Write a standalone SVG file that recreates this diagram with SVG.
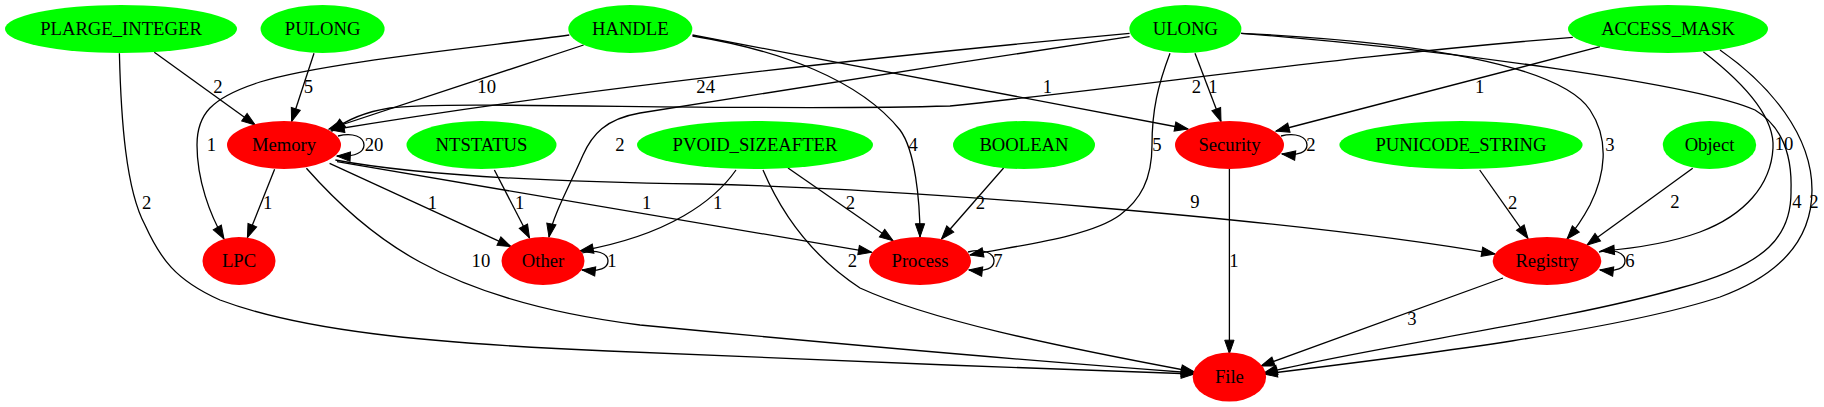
<svg xmlns="http://www.w3.org/2000/svg" width="1824" height="407" viewBox="0 0 1824 407">
<style>
.e{fill:none;stroke:#000;stroke-width:1.3;marker-end:url(#ah)}
.t{font-family:"Liberation Serif","Times New Roman",serif;font-size:18.67px;text-anchor:middle;fill:#000}
.s{fill:#00ff00}
.d{fill:#ff0000}
</style>
<defs>
<marker id="ah" markerUnits="userSpaceOnUse" markerWidth="14" markerHeight="10" refX="13.3" refY="4.67" orient="auto" overflow="visible">
<path d="M0,0 L13.3,4.67 L0,9.34 z" fill="#000" stroke="#000" stroke-width="1"/>
</marker>
</defs>
<rect width="1824" height="407" fill="#fff"/>
<g id="connectors">
<path class="e" d="M154.3,52.3 L255.2,125"/><text class="t" x="218" y="93">2</text>
<path class="e" d="M119.4,53.3 C121,120 126,190 145,225 C160,258 175,280 220,300 C300,330 420,343 608,351 C800,360 1000,367 1194.5,374"/><text class="t" x="146.6" y="209">2</text>
<path class="e" d="M314,53.3 L291.6,121.5"/><text class="t" x="308.3" y="93">5</text>
<path class="e" d="M583.6,45 L329,129"/><text class="t" x="486.7" y="93">10</text>
<path class="e" d="M569.3,35 C480,47 320,63 260,82 C210,98 197,115 197,145 C197,180 210,215 224,239"/><text class="t" x="211.4" y="151">1</text>
<path class="e" d="M692.5,35 L1188,129"/><text class="t" x="1047.4" y="93">1</text>
<path class="e" d="M692.5,36 C780,50 860,80 900,130 C915,150 920,200 920,237"/><text class="t" x="913.2" y="151">4</text>
<path class="e" d="M1129.6,33.3 C950,50 600,85 331,130"/><text class="t" x="705.7" y="93">24</text>
<path class="e" d="M1129.6,36.7 C960,62 720,100 640,113 C605,119 592,135 583,155 C570,185 553,215 549,237"/><text class="t" x="620" y="151">2</text>
<path class="e" d="M1195,53.3 L1221,121.5"/><text class="t" x="1213" y="93">1</text>
<path class="e" d="M1170,53.3 C1158,85 1152,110 1152,145 C1152,180 1140,200 1120,215 C1090,237 1020,245 970,255"/><text class="t" x="1157" y="151">5</text>
<path class="e" d="M1241,33.3 C1420,42 1560,65 1590,110 C1610,140 1605,175 1590,205 C1582,220 1575,230 1567,239"/><text class="t" x="1610" y="151">3</text>
<path class="e" d="M1241,33.3 C1450,50 1700,85 1755,110 C1785,128 1792,160 1791,190 C1792,235 1768,265 1680,288 C1560,322 1380,345 1264,373"/><text class="t" x="1797" y="208">4</text>
<path class="e" d="M1572.8,37.3 C1350,55 1150,85 950,106 C750,112 450,100 390,108 C365,112 346,120 332,131"/><text class="t" x="1196.3" y="93">2</text>
<path class="e" d="M1600,46.7 L1276,131"/><text class="t" x="1479.7" y="93">1</text>
<path class="e" d="M1703.3,51.7 C1740,80 1775,115 1773,148 C1771,185 1745,215 1700,232 C1670,243 1640,248 1601,251"/><text class="t" x="1784" y="150">10</text>
<path class="e" d="M1720,50 C1770,85 1812,135 1812,190 C1812,240 1780,275 1720,297 C1620,330 1420,355 1264,374"/><text class="t" x="1814" y="208">2</text>
<path class="e" d="M338,136 C353,132 364,137 364,145 C364,152 356,157 337,156"/><text class="t" x="374" y="151">20</text>
<path class="e" d="M274.6,169.3 L247.4,237.5"/><text class="t" x="267.6" y="209">1</text>
<path class="e" d="M329.6,163.3 L511,246.7"/><text class="t" x="432.4" y="209">1</text>
<path class="e" d="M337,161.7 L871.7,252.3"/><text class="t" x="646.7" y="209">1</text>
<path class="e" d="M335.4,160 C420,176 550,182 700,184 C900,188 1300,220 1495,254"/><text class="t" x="1195" y="208">9</text>
<path class="e" d="M306.4,168.3 C330,195 370,235 420,262 C480,295 560,315 640,325 C900,350 1100,366 1194.5,373"/><text class="t" x="480.9" y="267">10</text>
<path class="e" d="M494.4,170 L529.5,238"/><text class="t" x="519.7" y="209">1</text>
<path class="e" d="M736,170 C715,200 670,235 580,251"/><text class="t" x="717.7" y="209">1</text>
<path class="e" d="M788,168 L893,240.7"/><text class="t" x="850.4" y="209">2</text>
<path class="e" d="M763,170 C780,210 810,255 860,288 C930,320 1050,345 1194.5,372"/><text class="t" x="852.3" y="267">2</text>
<path class="e" d="M1003.6,168 L941.5,239"/><text class="t" x="980.3" y="209">2</text>
<path class="e" d="M582,253 C596,249 608,253 608,261 C608,268 600,272 582,270"/><text class="t" x="612" y="267">1</text>
<path class="e" d="M968,252 C983,248 994,253 994,261 C994,268 986,272 969,270"/><text class="t" x="998" y="267">7</text>
<path class="e" d="M1281,136 C1296,132 1307,137 1307,145 C1307,152 1299,156 1282,154"/><text class="t" x="1311" y="151">2</text>
<path class="e" d="M1229.4,169 L1229.4,353.5"/><text class="t" x="1234" y="267">1</text>
<path class="e" d="M1479.7,170 L1528,238.5"/><text class="t" x="1512.7" y="209">2</text>
<path class="e" d="M1692.7,168.3 L1587,245"/><text class="t" x="1675" y="208">2</text>
<path class="e" d="M1599,252 C1614,248 1625,253 1625,261 C1625,268 1617,272 1600,270"/><text class="t" x="1630" y="267">6</text>
<path class="e" d="M1503,278 L1261,366"/><text class="t" x="1411.8" y="325">3</text>
</g>
<g id="node-PLARGE_INTEGER"><ellipse class="s" cx="121" cy="29" rx="116" ry="24"/><text class="t" x="121" y="35">PLARGE_INTEGER</text></g>
<g id="node-PULONG"><ellipse class="s" cx="322.6" cy="29" rx="62" ry="24"/><text class="t" x="322.6" y="35">PULONG</text></g>
<g id="node-HANDLE"><ellipse class="s" cx="630.3" cy="29" rx="62" ry="24"/><text class="t" x="630.3" y="35">HANDLE</text></g>
<g id="node-ULONG"><ellipse class="s" cx="1185.4" cy="29" rx="56" ry="24"/><text class="t" x="1185.4" y="35">ULONG</text></g>
<g id="node-ACCESS_MASK"><ellipse class="s" cx="1668" cy="29" rx="100" ry="24"/><text class="t" x="1668" y="35">ACCESS_MASK</text></g>
<g id="node-Memory"><ellipse class="d" cx="284" cy="145" rx="57" ry="24"/><text class="t" x="284" y="151">Memory</text></g>
<g id="node-NTSTATUS"><ellipse class="s" cx="481.5" cy="145" rx="75" ry="24"/><text class="t" x="481.5" y="151">NTSTATUS</text></g>
<g id="node-PVOID_SIZEAFTER"><ellipse class="s" cx="755" cy="145" rx="118" ry="24"/><text class="t" x="755" y="151">PVOID_SIZEAFTER</text></g>
<g id="node-BOOLEAN"><ellipse class="s" cx="1024" cy="145" rx="71" ry="24"/><text class="t" x="1024" y="151">BOOLEAN</text></g>
<g id="node-Security"><ellipse class="d" cx="1229.5" cy="145" rx="54.5" ry="24"/><text class="t" x="1229.5" y="151">Security</text></g>
<g id="node-PUNICODE_STRING"><ellipse class="s" cx="1461" cy="145" rx="121.6" ry="24"/><text class="t" x="1461" y="151">PUNICODE_STRING</text></g>
<g id="node-Object"><ellipse class="s" cx="1709.5" cy="145" rx="46.7" ry="24"/><text class="t" x="1709.5" y="151">Object</text></g>
<g id="node-LPC"><ellipse class="d" cx="239" cy="261" rx="36.5" ry="24"/><text class="t" x="239" y="267">LPC</text></g>
<g id="node-Other"><ellipse class="d" cx="543" cy="261" rx="41.5" ry="24"/><text class="t" x="543" y="267">Other</text></g>
<g id="node-Process"><ellipse class="d" cx="920" cy="261" rx="51" ry="24"/><text class="t" x="920" y="267">Process</text></g>
<g id="node-Registry"><ellipse class="d" cx="1547" cy="261" rx="54.3" ry="24"/><text class="t" x="1547" y="267">Registry</text></g>
<g id="node-File"><ellipse class="d" cx="1229.4" cy="377" rx="36.7" ry="24.5"/><text class="t" x="1229.4" y="383">File</text></g>
</svg>
